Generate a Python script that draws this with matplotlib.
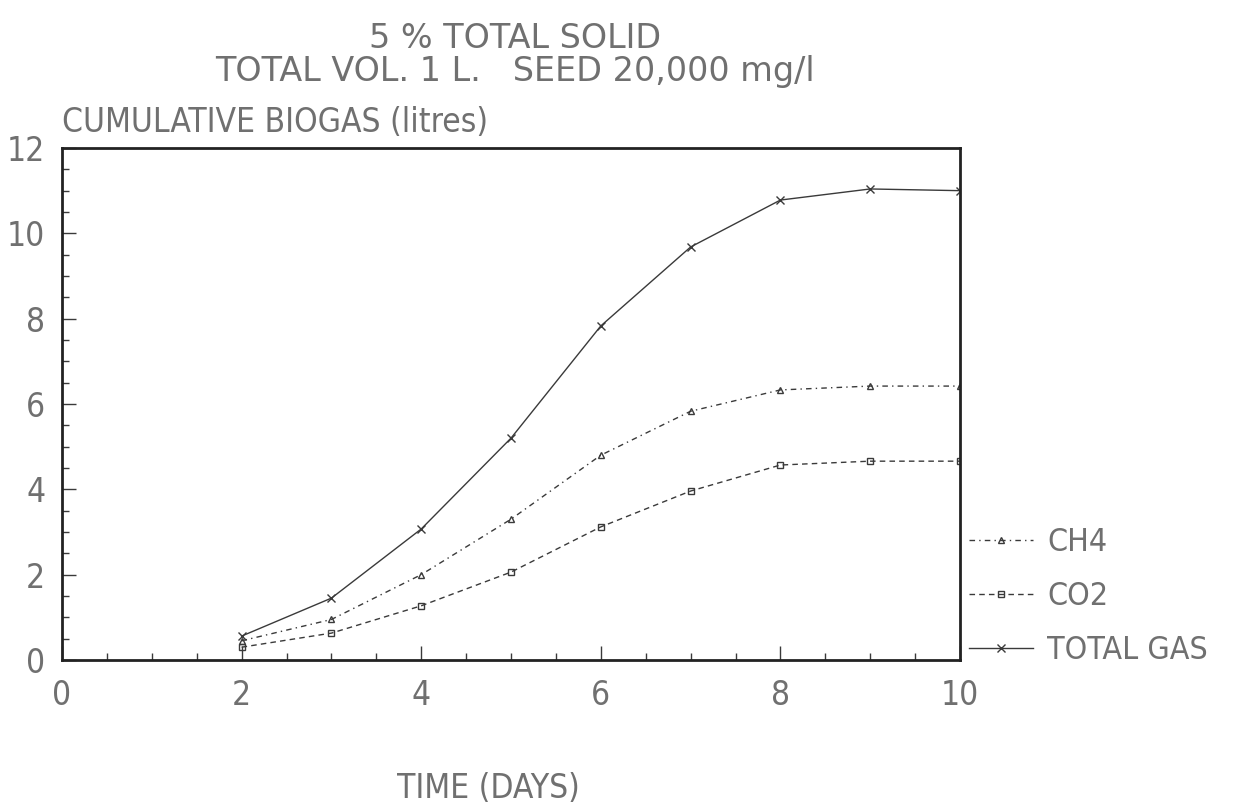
import matplotlib
matplotlib.use("Agg")
import matplotlib.pyplot as plt
from matplotlib.ticker import MultipleLocator

days = [2, 3, 4, 5, 6, 7, 8, 9, 10]
total_gas = [0.56, 1.45, 3.07, 5.2, 7.83, 9.68, 10.78, 11.04, 11.0]
ch4 = [0.45, 0.95, 2.0, 3.3, 4.8, 5.83, 6.33, 6.42, 6.42]
co2 = [0.3, 0.63, 1.27, 2.06, 3.12, 3.96, 4.57, 4.66, 4.66]

x_ticks = [0, 2, 4, 6, 8, 10]
y_ticks = [0, 2, 4, 6, 8, 10, 12]

plt.rcParams['font.family'] = ['DejaVu Sans']
plt.rcParams['font.stretch'] = 'condensed'
txt = '#707070'
ink = '#3a3a3a'
FS = 24

fig = plt.figure(figsize=(12.37, 8.05), dpi=100)
ax = fig.add_axes([62/1237, 1-660/805, (960-62)/1237, (660-148)/805])

ax.plot(days, ch4, linestyle=(0, (4, 3, 1, 3)), color=ink, lw=1.0,
        marker='^', ms=5, mfc='none', mec=ink, label='CH4')
ax.plot(days, co2, linestyle=(0, (4, 3)), color=ink, lw=1.0,
        marker='s', ms=5, mfc='none', mec=ink, label='CO2')
ax.plot(days, total_gas, linestyle='-', color=ink, lw=1.0,
        marker='x', ms=6, mec=ink, label='TOTAL GAS')

ax.set_xlim(0, 10)
ax.set_ylim(0, 12)
ax.set_xticks(x_ticks)
ax.set_yticks(y_ticks)
ax.xaxis.set_minor_locator(MultipleLocator(0.5))
ax.yaxis.set_minor_locator(MultipleLocator(0.5))
ax.tick_params(which='major', direction='in', length=10, width=1, color=ink,
               labelsize=FS, labelcolor=txt, top=False, right=False)
ax.tick_params(which='minor', direction='in', length=5, width=1, color=ink,
               top=False, right=False)
ax.tick_params(axis='x', pad=14)
ax.tick_params(axis='y', pad=12)
for sp in ax.spines.values():
    sp.set_color('#222222')
    sp.set_linewidth(2.0)

fig.text(515/1237, 1-38/805, '5 % TOTAL SOLID', ha='center', va='center',
         fontsize=FS, color=txt, fontstretch='normal')
fig.text(515/1237, 1-72/805, 'TOTAL VOL. 1 L.   SEED 20,000 mg/l', ha='center',
         va='center', fontsize=FS, color=txt, fontstretch='normal')
fig.text(62/1237, 1-123/805, 'CUMULATIVE BIOGAS (litres)', ha='left', va='center',
         fontsize=FS, color=txt)
fig.text(488/1237, 1-788/805, 'TIME (DAYS)', ha='center', va='center',
         fontsize=FS, color=txt)

leg = ax.legend(loc='lower left', bbox_to_anchor=(0.985, -0.055), frameon=False,
                fontsize=23, labelcolor=txt, handlelength=2.0, labelspacing=0.72,
                handletextpad=0.45, borderaxespad=0.3)

fig.savefig('out.png', dpi=100, facecolor='white')
